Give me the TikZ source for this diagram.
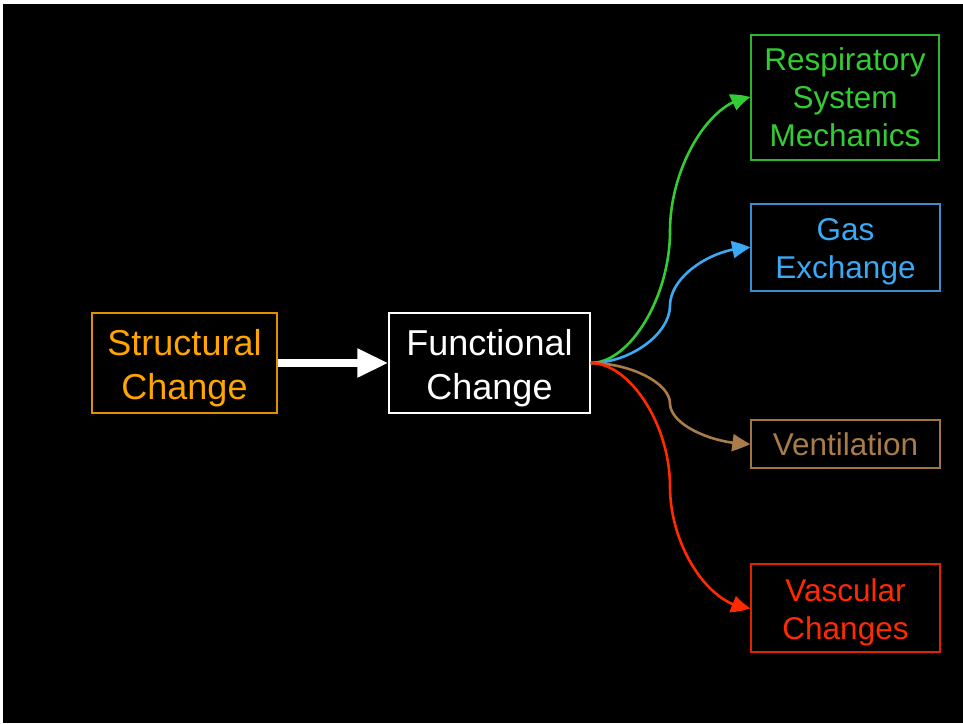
\documentclass[tikz,border=0pt]{standalone}
\usepackage{fontspec}
\setmainfont{Liberation Sans}
\usetikzlibrary{arrows.meta,bending}
\definecolor{corange}{HTML}{FFA500}
\definecolor{corangeb}{HTML}{E09000}
\definecolor{cgreen}{HTML}{33CC33}
\definecolor{cgreenb}{HTML}{2DB52D}
\definecolor{cblue}{HTML}{3AAAF5}
\definecolor{cblueb}{HTML}{3A8ED0}
\definecolor{cbrown}{HTML}{A97C4A}
\definecolor{cbrownb}{HTML}{A07545}
\definecolor{cred}{HTML}{FF2A00}
\definecolor{credb}{HTML}{E02200}
\newcommand{\bigstrut}{\rule{0pt}{36pt}}
\newcommand{\smlstrut}{\rule{0pt}{31pt}}
\tikzset{
  box/.style={draw, line width=1.2pt, inner sep=0pt, align=center},
  bigtext/.style={font=\fontsize{36}{44}\selectfont},
  smalltext/.style={font=\fontsize{31.5}{38}\selectfont},
  curv/.style={line width=2.6pt, -{Triangle[length=18pt,width=17pt,bend]}}
}
\begin{document}
\begin{tikzpicture}[x=1pt,y=-1pt]
\useasboundingbox (0,0) rectangle (963,723);
\fill[white] (0,0) rectangle (963,723);
\fill[black] (3,4) rectangle (963,723);

\node[box, bigtext, draw=corangeb, text=corange, minimum width=185pt, minimum height=100pt] (s) at (184.5,363) {\bigstrut Structural\\Change};
\node[box, bigtext, draw=white, text=white, minimum width=201pt, minimum height=100pt] (f) at (489.5,363) {\bigstrut Functional\\Change};

\node[box, smalltext, draw=cgreenb, text=cgreen, minimum width=188pt, minimum height=125pt] (r) at (845,97.5) {Respiratory\\System\\Mechanics};
\node[box, smalltext, draw=cblueb, text=cblue, minimum width=189pt, minimum height=87pt] (g) at (845.5,247.5) {\smlstrut Gas\\Exchange};
\node[box, smalltext, draw=cbrownb, text=cbrown, minimum width=189pt, minimum height=48pt] (v) at (845.5,444) {Ventilation};
\node[box, smalltext, draw=credb, text=cred, minimum width=189pt, minimum height=88pt] (c) at (845.5,608) {\smlstrut Vascular\\Changes};

\draw[line width=8.5pt, white, -{Triangle[length=31pt,width=27pt]}] (s.east) -- (f.west);

\draw[curv, cgreen] (f.east) .. controls (630,363) and (670,297) .. (670,231) .. controls (670,166) and (711,99) .. (r.west);
\draw[curv, cblue] (f.east) .. controls (630,363) and (670,334) .. (670,305.5) .. controls (670,277) and (711,248) .. (g.west);
\draw[curv, cbrown] (f.east) .. controls (630,363) and (670,383) .. (670,403.5) .. controls (670,424) and (711,444) .. (v.west);
\draw[curv, cred] (f.east) .. controls (630,363) and (670,425) .. (670,486.5) .. controls (670,548) and (711,608) .. (c.west);
\end{tikzpicture}
\end{document}
